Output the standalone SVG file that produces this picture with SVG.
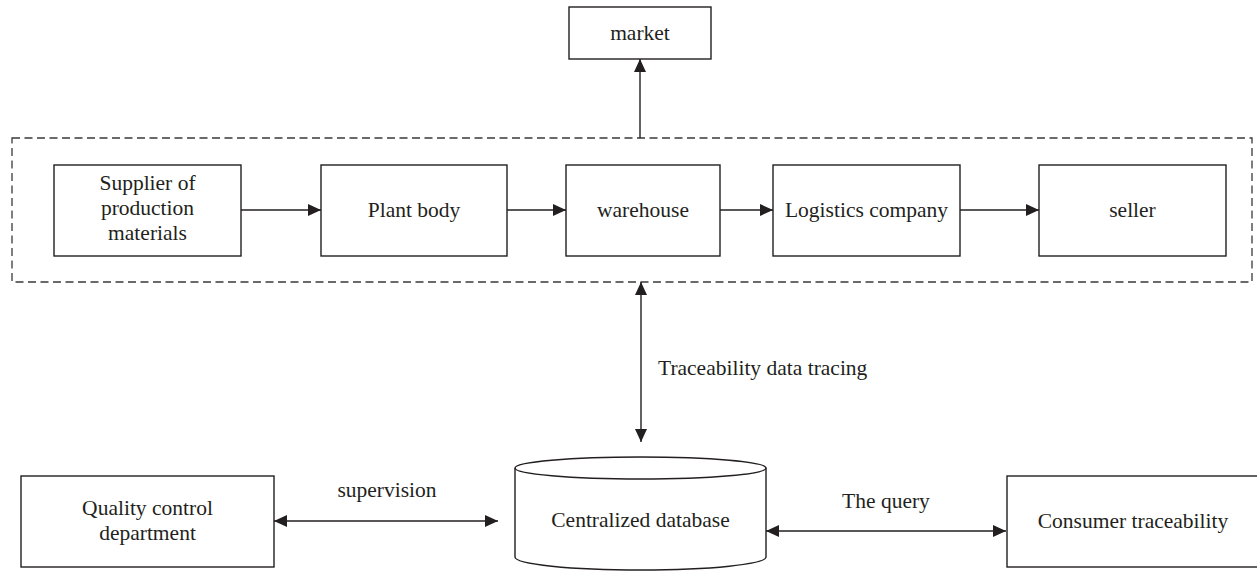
<svg xmlns="http://www.w3.org/2000/svg" width="1257" height="571" viewBox="0 0 1257 571">
<defs>
<style>
.box{fill:#fff;stroke:#231f20;stroke-width:1.4}
.dash{fill:none;stroke:#3a3a3a;stroke-width:1.3;stroke-dasharray:8 4.5}
.ln{fill:none;stroke:#231f20;stroke-width:1.4}
.t{font-family:"Liberation Serif","Times New Roman",serif;font-size:21.5px;fill:#231f20;text-anchor:middle}
.ts{text-anchor:start}
</style>
<marker id="ah" viewBox="0 0 13 12" markerWidth="13" markerHeight="12" refX="13" refY="6" orient="auto-start-reverse" markerUnits="userSpaceOnUse">
<path d="M0,0 L13,6 L0,12 Z" fill="#231f20"/>
</marker>
</defs>
<rect id="frame" class="dash" x="12" y="138" width="1240" height="144"/>
<g id="market"><rect class="box" x="569" y="7" width="142" height="52"/><text class="t" x="640" y="40">market</text></g>
<g id="supplier"><rect class="box" x="54" y="165" width="187" height="91"/>
<text class="t" x="147.5" y="190">Supplier of</text><text class="t" x="147.5" y="215">production</text><text class="t" x="147.5" y="240">materials</text></g>
<g id="plant"><rect class="box" x="321" y="165" width="186" height="91"/><text class="t" x="414" y="217">Plant body</text></g>
<g id="warehouse"><rect class="box" x="566" y="165" width="154" height="91"/><text class="t" x="643" y="217">warehouse</text></g>
<g id="logistics"><rect class="box" x="773" y="165" width="187" height="91"/><text class="t" x="866.5" y="217">Logistics company</text></g>
<g id="seller"><rect class="box" x="1039" y="165" width="187" height="91"/><text class="t" x="1132.5" y="217">seller</text></g>
<g id="quality"><rect class="box" x="21" y="476" width="253" height="91"/>
<text class="t" x="147.5" y="515">Quality control</text><text class="t" x="147.5" y="540">department</text></g>
<g id="database">
<path class="box" d="M515,468 L515,557 A125.5,13 0 0 0 766,557 L766,468"/>
<ellipse class="box" cx="640.5" cy="468" rx="125.5" ry="11"/>
<text class="t" x="640.5" y="527">Centralized database</text></g>
<g id="consumer"><rect class="box" x="1007" y="476" width="260" height="91"/><text class="t" x="1133" y="528">Consumer traceability</text></g>
<g id="connectors">
<line class="ln" x1="640" y1="138" x2="640" y2="59" marker-end="url(#ah)"/>
<line class="ln" x1="241" y1="210" x2="321" y2="210" marker-end="url(#ah)"/>
<line class="ln" x1="507" y1="210" x2="566" y2="210" marker-end="url(#ah)"/>
<line class="ln" x1="720" y1="210" x2="773" y2="210" marker-end="url(#ah)"/>
<line class="ln" x1="960" y1="210" x2="1039" y2="210" marker-end="url(#ah)"/>
<line class="ln" x1="641" y1="282" x2="641" y2="442" marker-start="url(#ah)" marker-end="url(#ah)"/>
<line class="ln" x1="274" y1="521" x2="498" y2="521" marker-start="url(#ah)" marker-end="url(#ah)"/>
<line class="ln" x1="766" y1="531" x2="1006" y2="531" marker-start="url(#ah)" marker-end="url(#ah)"/>
<text class="t ts" x="658" y="375">Traceability data tracing</text>
<text class="t" x="387" y="497">supervision</text>
<text class="t" x="886" y="508">The query</text>
</g>
</svg>
